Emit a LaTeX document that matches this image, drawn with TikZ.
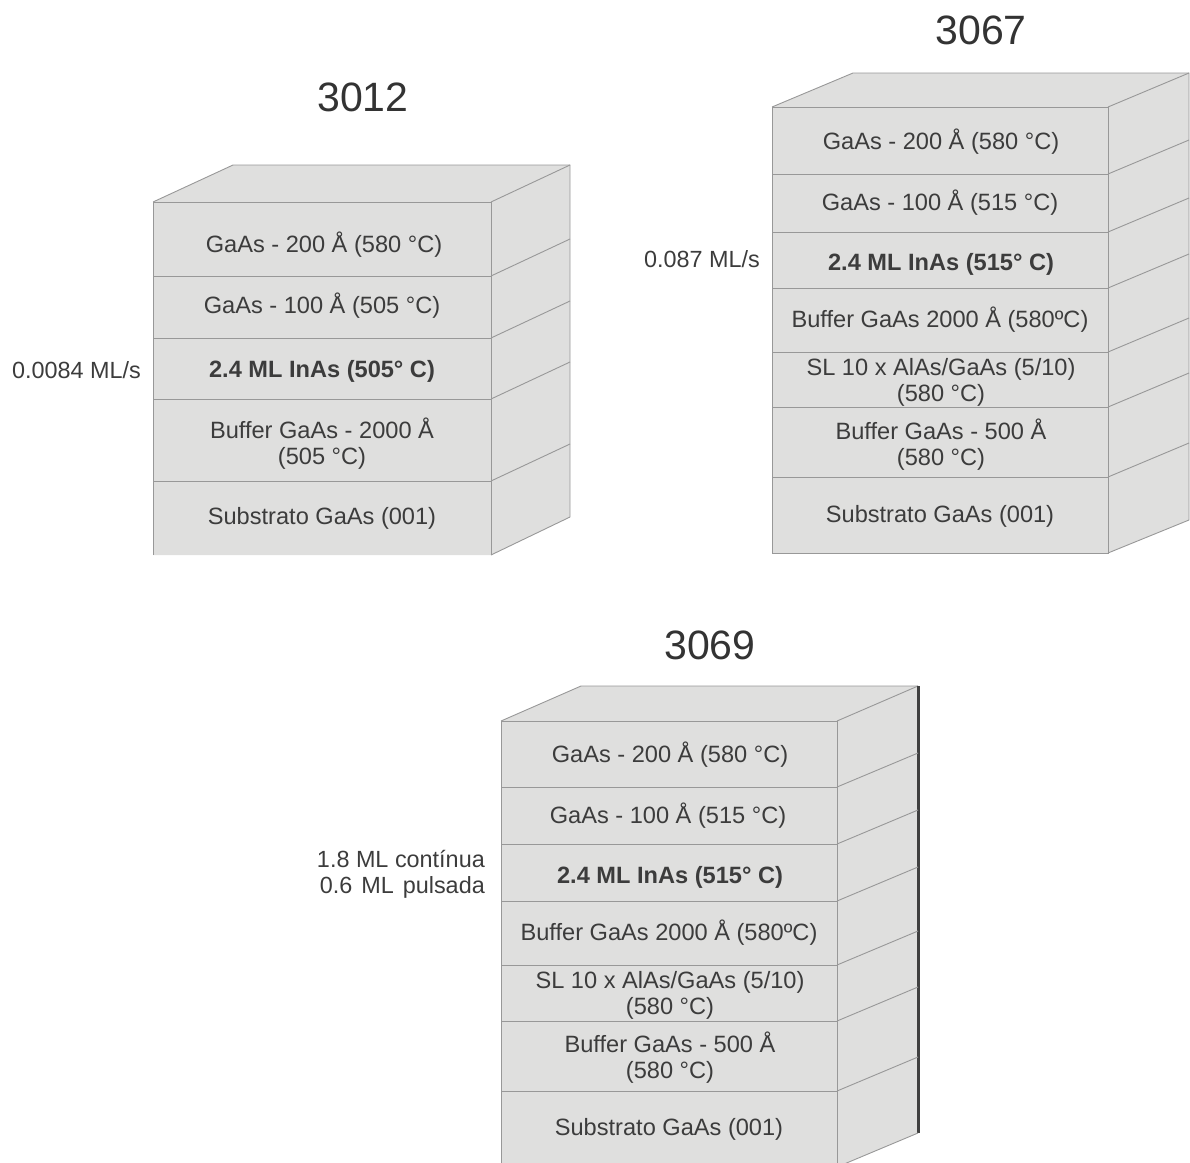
\documentclass[tikz,border=0pt]{standalone}
\usepackage{xcolor}
\usepackage{fontspec}
\setmainfont{Liberation Sans}
\usetikzlibrary{positioning}
\definecolor{inkG}{HTML}{3C3C3C}
\definecolor{lineG}{HTML}{989898}
\definecolor{faceG}{HTML}{DFDFDE}
\tikzset{
  layer/.style={draw=lineG, fill=faceG, line width=1pt, anchor=north west, inner sep=0pt, outer sep=0pt},
  layertext/.style={align=center, text=inkG, inner sep=0pt, font=\fontsize{23.6}{26}\selectfont},
  face/.style={fill=faceG},
  edge/.style={draw=lineG, line width=0.9pt},
  sample/.style={text=black!80, inner sep=0pt, font=\fontsize{41}{44}\selectfont},
  rate/.style={text=inkG, inner sep=0pt, align=right, font=\fontsize{23.4}{26.5}\selectfont},
}
\begin{document}
\begin{tikzpicture}[x=1pt,y=-1pt]
  \clip (0,0) rectangle (1190,1162);

  % 3012
  \node[sample] (t1) at (363,97) {3012};
  \path[face] (153,202) -- (233,165) -- (570,165) -- (570,517) -- (491,555) -- (153,555) -- cycle;
  \node[layer, minimum width=338pt, minimum height=74pt] (a1) at (153,202) {};
  \node[layer, minimum width=338pt, minimum height=62pt] (a2) at (153,276) {};
  \node[layer, minimum width=338pt, minimum height=61pt] (a3) at (153,338) {};
  \node[layer, minimum width=338pt, minimum height=82pt] (a4) at (153,399) {};
  \node[layer, draw=none, minimum width=338pt, minimum height=74pt] (a5) at (153,481) {};
  \node[layertext] (ta1) at (324,245) {GaAs - 200 Å (580 °C)};
  \node[layertext] (ta2) at (322,306) {GaAs - 100 Å (505 °C)};
  \node[layertext] (ta3) at (322,371) {\textbf{2.4 ML InAs (505° C)}};
  \node[layertext] (ta4) at (322,444) {Buffer GaAs - 2000 Å\\(505 °C)};
  \node[layertext] (ta5) at (322,518) {Substrato GaAs (001)};
  \draw[edge] (a1.north west) -- (a5.south west);
  \draw[edge] (a1.north east) -- (a5.south east);
  \draw[edge] (a4.south west) -- (a4.south east);
  \draw[edge] (a1.north west) -- ++(80,-37) coordinate (ab) -- ++(337,0) coordinate (ac) -- ++(0,352) coordinate (ad);
  \draw[edge] (ad) -- (a5.south east);
  \draw[edge] (a1.north east) -- (ac);
  \foreach \n in {a1,a2,a3,a4} \draw[edge] (\n.south east) -- ++(79,-37);
  \node[rate, anchor=east] (r1) at (141,370) {0.0084 ML/s};

  % 3067
  \node[sample] (t2) at (981,30) {3067};
  \path[face] (772,107) -- (853,73) -- (1189,73) -- (1189,520) -- (1108,553) -- (772,553) -- cycle;
  \node[layer, minimum width=336pt, minimum height=67pt] (b1) at (772,107) {};
  \node[layer, minimum width=336pt, minimum height=58pt] (b2) at (772,174) {};
  \node[layer, minimum width=336pt, minimum height=56pt] (b3) at (772,232) {};
  \node[layer, minimum width=336pt, minimum height=64pt] (b4) at (772,288) {};
  \node[layer, minimum width=336pt, minimum height=55pt] (b5) at (772,352) {};
  \node[layer, minimum width=336pt, minimum height=70pt] (b6) at (772,407) {};
  \node[layer, minimum width=336pt, minimum height=76pt] (b7) at (772,477) {};
  \node[layertext] (tb1) at (941,142) {GaAs - 200 Å (580 °C)};
  \node[layertext] (tb2) at (940,203) {GaAs - 100 Å (515 °C)};
  \node[layertext] (tb3) at (941,264) {\textbf{2.4 ML InAs (515° C)}};
  \node[layertext] (tb4) at (940,320) {Buffer GaAs 2000 Å (580ºC)};
  \node[layertext] (tb5) at (941,382) {SL 10 x AlAs/GaAs (5/10)\\(580 °C)};
  \node[layertext] (tb6) at (941,445) {Buffer GaAs - 500 Å\\(580 °C)};
  \node[layertext] (tb7) at (940,516) {Substrato GaAs (001)};
  \draw[edge] (b1.north west) -- ++(81,-34) coordinate (bb) -- ++(336,0) coordinate (bc) -- ++(0,447) coordinate (bd);
  \draw[edge] (bd) -- (b7.south east);
  \draw[edge] (b1.north east) -- (bc);
  \foreach \n in {b1,b2,b3,b4,b5,b6} \draw[edge] (\n.south east) -- ++(81,-34);
  \node[rate, anchor=east] (r2) at (760,259) {0.087 ML/s};

  % 3069
  \node[sample] (t3) at (710,645) {3069};
  \path[face] (501,721) -- (581,686) -- (918,686) -- (918,1133) -- (837,1167) -- (501,1167) -- cycle;
  \node[layer, minimum width=336pt, minimum height=66pt] (c1) at (501,721) {};
  \node[layer, minimum width=336pt, minimum height=57pt] (c2) at (501,787) {};
  \node[layer, minimum width=336pt, minimum height=57pt] (c3) at (501,844) {};
  \node[layer, minimum width=336pt, minimum height=64pt] (c4) at (501,901) {};
  \node[layer, minimum width=336pt, minimum height=56pt] (c5) at (501,965) {};
  \node[layer, minimum width=336pt, minimum height=70pt] (c6) at (501,1021) {};
  \node[layer, minimum width=336pt, minimum height=76pt] (c7) at (501,1091) {};
  \node[layertext] (tc1) at (670,755) {GaAs - 200 Å (580 °C)};
  \node[layertext] (tc2) at (668,816) {GaAs - 100 Å (515 °C)};
  \node[layertext] (tc3) at (670,877) {\textbf{2.4 ML InAs (515° C)}};
  \node[layertext] (tc4) at (669,933) {Buffer GaAs 2000 Å (580ºC)};
  \node[layertext] (tc5) at (670,995) {SL 10 x AlAs/GaAs (5/10)\\(580 °C)};
  \node[layertext] (tc6) at (670,1058) {Buffer GaAs - 500 Å\\(580 °C)};
  \node[layertext] (tc7) at (669,1129) {Substrato GaAs (001)};
  \draw[edge] (c1.north west) -- ++(80,-35) coordinate (cb) -- ++(337,0) coordinate (cc);
  \draw[edge] (c1.north east) -- (cc);
  \draw[line width=3pt, draw=black!75] (cc) -- ++(0,447) coordinate (cd);
  \draw[edge] (cd) -- (c7.south east);
  \foreach \n in {c1,c2,c3,c4,c5,c6} \draw[edge] (\n.south east) -- ++(81,-34);
  \node[rate, anchor=east] (r3) at (485,874.5) {1.8 ML contínua\\0.6\hspace{9pt}ML\hspace{9pt}pulsada};
\end{tikzpicture}
\end{document}
